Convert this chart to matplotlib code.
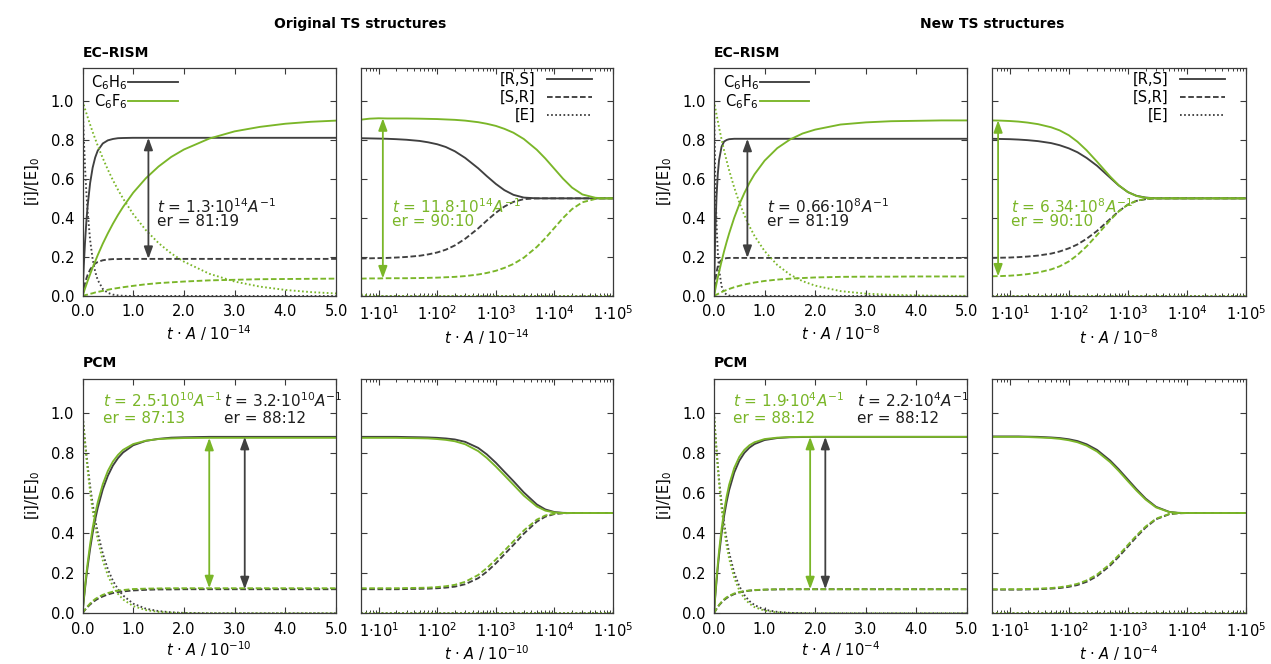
import matplotlib.pyplot as plt
from matplotlib.lines import Line2D
from matplotlib.ticker import FixedLocator, LogLocator, NullFormatter

plt.rcParams["font.family"] = ["DejaVu Sans"]
plt.rcParams["mathtext.fontset"] = "dejavusans"
plt.rcParams["font.size"] = 10.5

# ---------------------------------------------------------------- data
# time grids (t * A in units of the panel's power of ten)
T_LIN = [0, 0.025, 0.05, 0.075, 0.1, 0.15, 0.2, 0.25, 0.3, 0.4, 0.5, 0.6, 0.7,
         0.8, 1.0, 1.25, 1.5, 1.75, 2.0, 2.5, 3.0, 3.5, 4.0, 4.5, 5.0]
T_LOG = [5, 7, 10, 14, 20, 30, 50, 70, 100, 140, 200, 300, 500, 700, 1000, 1400, 2000,
         3000, 5000, 7000, 10000, 14000, 20000, 30000, 50000, 70000, 100000]

# original TS, EC-RISM, short times (H = C6H6, F = C6F6)
OR_LIN_H_RS = [0, 0.152, 0.276, 0.377, 0.458, 0.578, 0.657, 0.709, 0.744, 0.781, 0.797, 0.804, 0.808,
               0.809, 0.81, 0.81, 0.81, 0.81, 0.81, 0.81, 0.81, 0.81, 0.81, 0.81, 0.81]
OR_LIN_H_SR = [0, 0.036, 0.065, 0.088, 0.107, 0.135, 0.154, 0.166, 0.174, 0.183, 0.187, 0.189, 0.189,
               0.19, 0.19, 0.19, 0.19, 0.19, 0.19, 0.19, 0.19, 0.19, 0.19, 0.19, 0.19]
OR_LIN_H_E = [1, 0.812, 0.659, 0.535, 0.435, 0.287, 0.189, 0.125, 0.082, 0.036, 0.016, 0.007, 0.003,
              0.001, 0, 0, 0, 0, 0, 0, 0, 0, 0, 0, 0]
OR_LIN_F_RS = [0, 0.019, 0.039, 0.057, 0.076, 0.111, 0.146, 0.177, 0.209, 0.268, 0.321, 0.370, 0.415,
               0.456, 0.529, 0.603, 0.663, 0.712, 0.750, 0.806, 0.843, 0.866, 0.882, 0.892, 0.898]
OR_LIN_F_SR = [0, 0.002, 0.004, 0.006, 0.007, 0.011, 0.014, 0.018, 0.021, 0.026, 0.032, 0.037, 0.041,
               0.045, 0.052, 0.060, 0.066, 0.070, 0.074, 0.080, 0.083, 0.086, 0.087, 0.088, 0.089]
OR_LIN_F_E = [1, 0.979, 0.957, 0.937, 0.917, 0.878, 0.840, 0.805, 0.770, 0.706, 0.647, 0.593, 0.544,
              0.499, 0.419, 0.337, 0.271, 0.218, 0.176, 0.114, 0.074, 0.048, 0.031, 0.020, 0.013]

# original TS, EC-RISM, long times
OR_LOG_H_RS = [0.808, 0.807, 0.806, 0.805, 0.803, 0.800, 0.794, 0.787, 0.777, 0.763, 0.741, 0.707,
               0.654, 0.614, 0.574, 0.542, 0.518, 0.504, 0.5, 0.5, 0.5, 0.5, 0.5, 0.5, 0.5, 0.5, 0.5]
OR_LOG_H_SR = [0.192, 0.193, 0.194, 0.195, 0.197, 0.200, 0.206, 0.213, 0.223, 0.237, 0.259, 0.293,
               0.346, 0.386, 0.426, 0.458, 0.482, 0.496, 0.5, 0.5, 0.5, 0.5, 0.5, 0.5, 0.5, 0.5, 0.5]
OR_LOG_F_RS = [0.903, 0.908, 0.910, 0.909, 0.909, 0.909, 0.908, 0.907, 0.906, 0.904, 0.902, 0.898,
               0.890, 0.882, 0.871, 0.856, 0.836, 0.804, 0.749, 0.704, 0.651, 0.601, 0.555, 0.520,
               0.503, 0.500, 0.5]
OR_LOG_F_SR = [0.089, 0.090, 0.090, 0.091, 0.091, 0.091, 0.092, 0.093, 0.094, 0.096, 0.098, 0.102,
               0.110, 0.118, 0.129, 0.144, 0.164, 0.196, 0.251, 0.296, 0.349, 0.399, 0.445, 0.480,
               0.497, 0.5, 0.5]
OR_LOG_F_E = [0.008, 0.002, 0, 0, 0, 0, 0, 0, 0, 0, 0, 0, 0, 0, 0, 0, 0, 0, 0, 0, 0, 0, 0, 0, 0, 0, 0]
LOG_E_ZERO = [0, 0, 0, 0, 0, 0, 0, 0, 0, 0, 0, 0, 0, 0, 0, 0, 0, 0, 0, 0, 0, 0, 0, 0, 0, 0, 0]

# new TS, EC-RISM, short times
NR_LIN_H_RS = [0, 0.316, 0.509, 0.625, 0.696, 0.765, 0.791, 0.799, 0.803, 0.805, 0.805, 0.805, 0.805,
               0.805, 0.805, 0.805, 0.805, 0.805, 0.805, 0.805, 0.805, 0.805, 0.805, 0.805, 0.805]
NR_LIN_H_SR = [0, 0.077, 0.123, 0.151, 0.169, 0.185, 0.191, 0.194, 0.195, 0.195, 0.195, 0.195, 0.195,
               0.195, 0.195, 0.195, 0.195, 0.195, 0.195, 0.195, 0.195, 0.195, 0.195, 0.195, 0.195]
NR_LIN_H_E = [1, 0.607, 0.368, 0.223, 0.135, 0.050, 0.018, 0.007, 0.002, 0, 0, 0, 0,
              0, 0, 0, 0, 0, 0, 0, 0, 0, 0, 0, 0]
NR_LIN_F_RS = [0, 0.032, 0.064, 0.094, 0.123, 0.178, 0.230, 0.277, 0.321, 0.401, 0.469, 0.527, 0.579,
               0.623, 0.693, 0.757, 0.801, 0.832, 0.852, 0.878, 0.889, 0.895, 0.897, 0.899, 0.899]
NR_LIN_F_SR = [0, 0.004, 0.007, 0.010, 0.014, 0.020, 0.026, 0.031, 0.036, 0.045, 0.052, 0.059, 0.064,
               0.069, 0.077, 0.084, 0.089, 0.092, 0.095, 0.098, 0.099, 0.099, 0.100, 0.100, 0.100]
NR_LIN_F_E = [1, 0.964, 0.929, 0.896, 0.863, 0.802, 0.745, 0.692, 0.643, 0.555, 0.479, 0.414, 0.357,
              0.308, 0.230, 0.159, 0.110, 0.076, 0.053, 0.025, 0.012, 0.006, 0.003, 0.001, 0.001]

# new TS, EC-RISM, long times
NR_LOG_H_RS = [0.805, 0.804, 0.803, 0.801, 0.798, 0.793, 0.783, 0.772, 0.756, 0.736, 0.707, 0.667,
               0.606, 0.566, 0.532, 0.513, 0.504, 0.5, 0.5, 0.5, 0.5, 0.5, 0.5, 0.5, 0.5, 0.5, 0.5]
NR_LOG_H_SR = [0.195, 0.196, 0.197, 0.199, 0.202, 0.207, 0.217, 0.228, 0.244, 0.264, 0.293, 0.333,
               0.394, 0.434, 0.468, 0.487, 0.496, 0.5, 0.5, 0.5, 0.5, 0.5, 0.5, 0.5, 0.5, 0.5, 0.5]
NR_LOG_F_RS = [0.899, 0.898, 0.896, 0.893, 0.888, 0.880, 0.864, 0.848, 0.823, 0.790, 0.746, 0.688,
               0.612, 0.567, 0.532, 0.512, 0.503, 0.5, 0.5, 0.5, 0.5, 0.5, 0.5, 0.5, 0.5, 0.5, 0.5]
NR_LOG_F_SR = [0.101, 0.102, 0.104, 0.107, 0.112, 0.120, 0.136, 0.152, 0.177, 0.210, 0.254, 0.312,
               0.388, 0.433, 0.468, 0.488, 0.497, 0.5, 0.5, 0.5, 0.5, 0.5, 0.5, 0.5, 0.5, 0.5, 0.5]

# original TS, PCM, short times
OP_LIN_H_RS = [0, 0.064, 0.124, 0.179, 0.230, 0.321, 0.400, 0.467, 0.525, 0.618, 0.686, 0.737, 0.774,
               0.802, 0.838, 0.860, 0.870, 0.876, 0.878, 0.88, 0.88, 0.88, 0.88, 0.88, 0.88]
OP_LIN_H_SR = [0, 0.009, 0.017, 0.024, 0.031, 0.044, 0.054, 0.064, 0.072, 0.084, 0.094, 0.101, 0.106,
               0.109, 0.114, 0.117, 0.119, 0.119, 0.12, 0.12, 0.12, 0.12, 0.12, 0.12, 0.12]
OP_LIN_H_E = [1, 0.927, 0.859, 0.797, 0.739, 0.635, 0.546, 0.469, 0.403, 0.298, 0.220, 0.162, 0.120,
              0.089, 0.048, 0.023, 0.011, 0.005, 0.002, 0, 0, 0, 0, 0, 0]
OP_LIN_F_RS = [0, 0.070, 0.135, 0.193, 0.248, 0.344, 0.426, 0.494, 0.553, 0.644, 0.710, 0.757, 0.790,
               0.815, 0.844, 0.861, 0.869, 0.872, 0.874, 0.875, 0.875, 0.875, 0.875, 0.875, 0.875]
OP_LIN_F_SR = [0, 0.010, 0.019, 0.028, 0.035, 0.049, 0.061, 0.071, 0.079, 0.092, 0.101, 0.108, 0.113,
               0.116, 0.121, 0.123, 0.124, 0.125, 0.125, 0.125, 0.125, 0.125, 0.125, 0.125, 0.125]
OP_LIN_F_E = [1, 0.920, 0.846, 0.779, 0.717, 0.607, 0.513, 0.435, 0.368, 0.264, 0.189, 0.135, 0.097,
              0.069, 0.036, 0.016, 0.007, 0.003, 0.001, 0, 0, 0, 0, 0, 0]

# original TS, PCM, long times
OP_LOG_H_RS = [0.880, 0.880, 0.880, 0.880, 0.880, 0.879, 0.878, 0.877, 0.875, 0.872, 0.867, 0.855,
               0.825, 0.793, 0.751, 0.706, 0.659, 0.603, 0.543, 0.518, 0.505, 0.501, 0.5, 0.5, 0.5,
               0.5, 0.5]
OP_LOG_H_SR = [0.120, 0.120, 0.120, 0.120, 0.120, 0.121, 0.122, 0.123, 0.125, 0.128, 0.133, 0.145,
               0.175, 0.207, 0.249, 0.294, 0.341, 0.397, 0.457, 0.482, 0.495, 0.499, 0.5, 0.5, 0.5,
               0.5, 0.5]
OP_LOG_F_RS = [0.875, 0.875, 0.875, 0.875, 0.875, 0.874, 0.873, 0.872, 0.869, 0.865, 0.858, 0.843,
               0.809, 0.775, 0.732, 0.688, 0.641, 0.587, 0.533, 0.512, 0.503, 0.500, 0.5, 0.5, 0.5,
               0.5, 0.5]
OP_LOG_F_SR = [0.125, 0.125, 0.125, 0.125, 0.125, 0.126, 0.127, 0.128, 0.131, 0.135, 0.142, 0.157,
               0.191, 0.225, 0.268, 0.312, 0.359, 0.413, 0.467, 0.488, 0.497, 0.5, 0.5, 0.5, 0.5,
               0.5, 0.5]

# new TS, PCM, short times
NP_LIN_H_RS = [0, 0.084, 0.159, 0.228, 0.290, 0.397, 0.485, 0.556, 0.615, 0.702, 0.761, 0.800, 0.826,
               0.844, 0.864, 0.874, 0.878, 0.879, 0.88, 0.88, 0.88, 0.88, 0.88, 0.88, 0.88]
NP_LIN_H_SR = [0, 0.011, 0.022, 0.031, 0.040, 0.054, 0.066, 0.076, 0.084, 0.096, 0.104, 0.109, 0.113,
               0.115, 0.118, 0.119, 0.12, 0.12, 0.12, 0.12, 0.12, 0.12, 0.12, 0.12, 0.12]
NP_LIN_H_E = [1, 0.905, 0.819, 0.741, 0.670, 0.549, 0.449, 0.368, 0.301, 0.202, 0.135, 0.091, 0.061,
              0.041, 0.018, 0.007, 0.002, 0.001, 0, 0, 0, 0, 0, 0, 0]
NP_LIN_F_RS = [0, 0.091, 0.172, 0.245, 0.311, 0.422, 0.511, 0.583, 0.642, 0.725, 0.780, 0.815, 0.838,
               0.853, 0.869, 0.876, 0.879, 0.88, 0.88, 0.88, 0.88, 0.88, 0.88, 0.88, 0.88]
NP_LIN_F_SR = [0, 0.012, 0.023, 0.033, 0.042, 0.057, 0.070, 0.080, 0.087, 0.099, 0.106, 0.111, 0.114,
               0.116, 0.118, 0.120, 0.12, 0.12, 0.12, 0.12, 0.12, 0.12, 0.12, 0.12, 0.12]
NP_LIN_F_E = [1, 0.897, 0.805, 0.722, 0.647, 0.521, 0.419, 0.337, 0.271, 0.176, 0.114, 0.074, 0.048,
              0.031, 0.013, 0.004, 0.001, 0, 0, 0, 0, 0, 0, 0, 0]

# new TS, PCM, long times
NP_LOG_H_RS = [0.882, 0.882, 0.882, 0.882, 0.881, 0.880, 0.877, 0.874, 0.868, 0.859, 0.843, 0.815,
               0.762, 0.718, 0.667, 0.619, 0.572, 0.531, 0.506, 0.501, 0.5, 0.5, 0.5, 0.5, 0.5,
               0.5, 0.5]
NP_LOG_H_SR = [0.118, 0.118, 0.118, 0.118, 0.119, 0.120, 0.123, 0.126, 0.132, 0.141, 0.157, 0.185,
               0.238, 0.282, 0.333, 0.381, 0.428, 0.469, 0.494, 0.499, 0.5, 0.5, 0.5, 0.5, 0.5,
               0.5, 0.5]
NP_LOG_F_RS = [0.880, 0.880, 0.880, 0.880, 0.879, 0.877, 0.874, 0.870, 0.863, 0.853, 0.836, 0.807,
               0.754, 0.710, 0.659, 0.612, 0.567, 0.528, 0.505, 0.501, 0.5, 0.5, 0.5, 0.5, 0.5,
               0.5, 0.5]
NP_LOG_F_SR = [0.120, 0.120, 0.120, 0.120, 0.121, 0.123, 0.126, 0.130, 0.137, 0.147, 0.164, 0.193,
               0.246, 0.290, 0.341, 0.388, 0.433, 0.472, 0.495, 0.499, 0.5, 0.5, 0.5, 0.5, 0.5,
               0.5, 0.5]

# enantiomeric-ratio arrows: (t, lower, upper)
OR_LOG_ARROW_F = (11.8, 0.09, 0.91)
OR_LIN_ARROW_H = (1.3, 0.19, 0.81)
NR_LIN_ARROW_H = (0.66, 0.195, 0.805)
NR_LOG_ARROW_F = (6.34, 0.10, 0.90)
OP_LIN_ARROW_F = (2.5, 0.125, 0.875)
OP_LIN_ARROW_H = (3.2, 0.12, 0.88)
NP_LIN_ARROW_F = (1.9, 0.12, 0.88)
NP_LIN_ARROW_H = (2.2, 0.12, 0.88)

LOG_TICKS = [1e1, 1e2, 1e3, 1e4, 1e5]
LOG_TICK_LABELS = ["1·10$^{1}$", "1·10$^{2}$", "1·10$^{3}$", "1·10$^{4}$", "1·10$^{5}$"]
LIN_TICKS = [0, 1, 2, 3, 4, 5]
LIN_TICK_LABELS = ["0.0", "1.0", "2.0", "3.0", "4.0", "5.0"]
Y_TICKS = [0, 0.2, 0.4, 0.6, 0.8, 1.0]
Y_TICK_LABELS = ["0.0", "0.2", "0.4", "0.6", "0.8", "1.0"]

# ---------------------------------------------------------------- style
DARK = "#404040"
GREEN = "#7ab628"
TEXT_DARK = "#1e1e1e"
LW = 1.35
DASHED = (3.0, 1.4)
DOTTED = (0.9, 1.3)

W, H = 1271, 664
COLS = [(82.5, 336), (361, 613), (714, 967), (992, 1246)]
ROWS = [(67.5, 296), (378.7, 613.3)]

fig = plt.figure(figsize=(W / 100, H / 100), dpi=100)


def make_axes(col, row):
    x0, x1 = COLS[col]
    y0, y1 = ROWS[row]
    return fig.add_axes([x0 / W, 1 - y1 / H, (x1 - x0) / W, (y1 - y0) / H])


def style_axes(ax, log):
    ax.set_ylim(0, 1.17)
    ax.set_yticks(Y_TICKS)
    for s in ax.spines.values():
        s.set_color("#3a3a3a")
        s.set_linewidth(0.9)
    ax.tick_params(which="major", direction="in", top=True, right=True, length=4.5,
                   width=0.8, color="#3a3a3a", labelsize=10.5, pad=6)
    ax.tick_params(axis="x", pad=6)
    if log:
        ax.set_xscale("log")
        ax.set_xlim(5, 1e5)
        ax.xaxis.set_major_locator(FixedLocator(LOG_TICKS))
        ax.set_xticklabels(LOG_TICK_LABELS)
        ax.xaxis.set_minor_locator(LogLocator(base=10, subs=range(2, 10), numticks=30))
        ax.xaxis.set_minor_formatter(NullFormatter())
        ax.tick_params(which="minor", direction="in", top=True, length=2.5, width=0.7,
                       color="#3a3a3a")
        ax.set_yticklabels([])
    else:
        ax.set_xlim(0, 5)
        ax.set_xticks(LIN_TICKS)
        ax.set_xticklabels(LIN_TICK_LABELS)
        ax.set_yticklabels(Y_TICK_LABELS)
        ax.minorticks_off()


def curves(ax, t, rs, sr, e, color):
    ax.plot(t, rs, color=color, lw=LW)
    ax.plot(t, sr, color=color, lw=LW, dashes=DASHED)
    ax.plot(t, e, color=color, lw=LW, dashes=DOTTED)


def double_arrow(ax, arrow, color):
    x, lo, hi = arrow
    ax.annotate("", xy=(x, hi), xytext=(x, lo),
                arrowprops=dict(arrowstyle="<|-|>,head_length=0.6,head_width=0.22",
                                color=color, lw=1.3, shrinkA=0, shrinkB=0,
                                mutation_scale=12))


def note(ax, x, y1, y2, line1, line2, color):
    ax.text(x, y1, line1, color=color, fontsize=11, va="baseline", ha="left")
    ax.text(x, y2, line2, color=color, fontsize=11, va="baseline", ha="left")


def xlab(ax, exp, pad):
    ax.set_xlabel("$t$ · $A$ / 10$^{%s}$" % exp, fontsize=10.5, labelpad=pad)


def lin_legend(ax):
    handles = [Line2D([], [], color=DARK, lw=LW), Line2D([], [], color=GREEN, lw=LW)]
    ax.legend(handles, ["C$_6$H$_6$", "C$_6$F$_6$"], loc="upper left",
              bbox_to_anchor=(0.025, 0.985), frameon=False, borderpad=0.15,
              borderaxespad=0, handlelength=3.4, handletextpad=0.05,
              labelspacing=0.0, markerfirst=False, fontsize=10.5)


def log_legend(ax):
    handles = [Line2D([], [], color=DARK, lw=LW),
               Line2D([], [], color=DARK, lw=LW, dashes=DASHED),
               Line2D([], [], color=DARK, lw=LW, dashes=DOTTED)]
    ax.legend(handles, ["[R,S]", "[S,R]", "[E]"], loc="upper right",
              bbox_to_anchor=(0.925, 0.99), frameon=False, borderpad=0.15,
              borderaxespad=0, handlelength=3.1, handletextpad=0.8,
              labelspacing=0.2, markerfirst=False, fontsize=10.5)


# ---------------------------------------------------------------- panels
# original TS, EC-RISM
ax = make_axes(0, 0)
style_axes(ax, False)
curves(ax, T_LIN, OR_LIN_H_RS, OR_LIN_H_SR, OR_LIN_H_E, DARK)
curves(ax, T_LIN, OR_LIN_F_RS, OR_LIN_F_SR, OR_LIN_F_E, GREEN)
double_arrow(ax, OR_LIN_ARROW_H, DARK)
note(ax, 1.47, 0.425, 0.36, "$t$ = 1.3·10$^{14}$$A^{-1}$", "er = 81:19", TEXT_DARK)
lin_legend(ax)
xlab(ax, "-14", 3)
ax.set_ylabel("[i]/[E]$_0$", fontsize=10.5, labelpad=6)

ax = make_axes(1, 0)
style_axes(ax, True)
curves(ax, T_LOG, OR_LOG_H_RS, OR_LOG_H_SR, LOG_E_ZERO, DARK)
curves(ax, T_LOG, OR_LOG_F_RS, OR_LOG_F_SR, OR_LOG_F_E, GREEN)
double_arrow(ax, OR_LOG_ARROW_F, GREEN)
note(ax, 17, 0.425, 0.36, "$t$ = 11.8·10$^{14}$$A^{-1}$", "er = 90:10", GREEN)
log_legend(ax)
xlab(ax, "-14", 3)

# new TS, EC-RISM
ax = make_axes(2, 0)
style_axes(ax, False)
curves(ax, T_LIN, NR_LIN_H_RS, NR_LIN_H_SR, NR_LIN_H_E, DARK)
curves(ax, T_LIN, NR_LIN_F_RS, NR_LIN_F_SR, NR_LIN_F_E, GREEN)
double_arrow(ax, NR_LIN_ARROW_H, DARK)
note(ax, 1.05, 0.425, 0.36, "$t$ = 0.66·10$^{8}$$A^{-1}$", "er = 81:19", TEXT_DARK)
lin_legend(ax)
xlab(ax, "-8", 3)
ax.set_ylabel("[i]/[E]$_0$", fontsize=10.5, labelpad=6)

ax = make_axes(3, 0)
style_axes(ax, True)
curves(ax, T_LOG, NR_LOG_H_RS, NR_LOG_H_SR, LOG_E_ZERO, DARK)
curves(ax, T_LOG, NR_LOG_F_RS, NR_LOG_F_SR, LOG_E_ZERO, GREEN)
double_arrow(ax, NR_LOG_ARROW_F, GREEN)
note(ax, 10.5, 0.425, 0.36, "$t$ = 6.34·10$^{8}$$A^{-1}$", "er = 90:10", GREEN)
log_legend(ax)
xlab(ax, "-8", 3)

# original TS, PCM
ax = make_axes(0, 1)
style_axes(ax, False)
curves(ax, T_LIN, OP_LIN_H_RS, OP_LIN_H_SR, OP_LIN_H_E, DARK)
curves(ax, T_LIN, OP_LIN_F_RS, OP_LIN_F_SR, OP_LIN_F_E, GREEN)
double_arrow(ax, OP_LIN_ARROW_F, GREEN)
double_arrow(ax, OP_LIN_ARROW_H, DARK)
note(ax, 0.40, 1.027, 0.948, "$t$ = 2.5·10$^{10}$$A^{-1}$", "er = 87:13", GREEN)
note(ax, 2.79, 1.027, 0.948, "$t$ = 3.2·10$^{10}$$A^{-1}$", "er = 88:12", TEXT_DARK)
xlab(ax, "-10", 2)
ax.set_ylabel("[i]/[E]$_0$", fontsize=10.5, labelpad=6)

ax = make_axes(1, 1)
style_axes(ax, True)
curves(ax, T_LOG, OP_LOG_H_RS, OP_LOG_H_SR, LOG_E_ZERO, DARK)
curves(ax, T_LOG, OP_LOG_F_RS, OP_LOG_F_SR, LOG_E_ZERO, GREEN)
xlab(ax, "-10", 2)

# new TS, PCM
ax = make_axes(2, 1)
style_axes(ax, False)
curves(ax, T_LIN, NP_LIN_H_RS, NP_LIN_H_SR, NP_LIN_H_E, DARK)
curves(ax, T_LIN, NP_LIN_F_RS, NP_LIN_F_SR, NP_LIN_F_E, GREEN)
double_arrow(ax, NP_LIN_ARROW_F, GREEN)
double_arrow(ax, NP_LIN_ARROW_H, DARK)
note(ax, 0.375, 1.027, 0.948, "$t$ = 1.9·10$^{4}$$A^{-1}$", "er = 88:12", GREEN)
note(ax, 2.83, 1.027, 0.948, "$t$ = 2.2·10$^{4}$$A^{-1}$", "er = 88:12", TEXT_DARK)
xlab(ax, "-4", 2)
ax.set_ylabel("[i]/[E]$_0$", fontsize=10.5, labelpad=6)

ax = make_axes(3, 1)
style_axes(ax, True)
curves(ax, T_LOG, NP_LOG_H_RS, NP_LOG_H_SR, LOG_E_ZERO, DARK)
curves(ax, T_LOG, NP_LOG_F_RS, NP_LOG_F_SR, LOG_E_ZERO, GREEN)
xlab(ax, "-4", 2)

# ---------------------------------------------------------------- headings
fig.text(360 / W, 1 - 24 / H, "Original TS structures", ha="center", va="center",
         fontsize=10, fontweight="bold")
fig.text(992 / W, 1 - 24 / H, "New TS structures", ha="center", va="center",
         fontsize=10, fontweight="bold")
for x in (82.5, 714):
    fig.text(x / W, 1 - 53 / H, "EC–RISM", ha="left", va="center", fontsize=10,
             fontweight="bold")
    fig.text(x / W, 1 - 363 / H, "PCM", ha="left", va="center", fontsize=10,
             fontweight="bold")

fig.savefig("out.png", dpi=100)
